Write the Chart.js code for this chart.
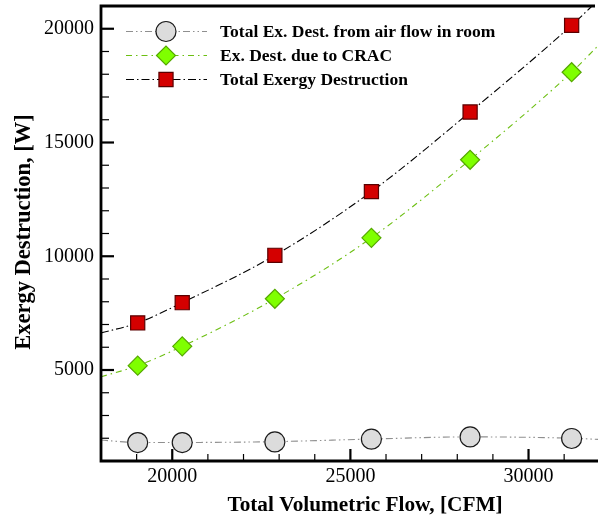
<!DOCTYPE html>
<html>
<head>
<meta charset="utf-8">
<script src="https://cdn.jsdelivr.net/npm/chart.js@4/dist/chart.umd.min.js"></script>
<style>
  html, body { margin: 0; padding: 0; background: #fff; overflow: hidden; }
  canvas { display: block; }
</style>
</head>
<body>
<canvas id="grafico" width="598" height="520"></canvas>
<script>
// Dados
const flowCFM = [19030, 20280, 22880, 25590, 28360, 31210];
const exDestRoom = [1810, 1810, 1840, 1960, 2060, 1990];
const exDestCRAC = [5190, 6040, 8130, 10810, 14240, 18090];
const exDestTotal = [7070, 7960, 10040, 12840, 16340, 20150];

// Curvas de ajuste (incluindo onde tocam a moldura)
const fitFlow = [18000, 19030, 20280, 22880, 25590, 28360, 31210, 31950];
const fitRoom = [1920, 1815, 1815, 1850, 1965, 2060, 2000, 1950];
const fitCRAC = [4700, 5190, 6040, 8130, 10810, 14240, 18090, 19250];
const fitTotal = [6630, 7070, 7960, 10040, 12840, 16340, 20150, 21250];

// Ticks
const xTicks = [19000, 20000, 21000, 22000, 23000, 24000, 25000, 26000, 27000, 28000, 29000, 30000, 31000];
const xTickLabels = [20000, 25000, 30000];
const yTicks = [2000, 3000, 4000, 5000, 6000, 7000, 8000, 9000, 10000, 11000, 12000, 13000, 14000, 15000, 16000, 17000, 18000, 19000, 20000];
const yTickLabels = [5000, 10000, 15000, 20000];

const seriesLabels = [
  'Total Ex. Dest. from air flow in room',
  'Ex. Dest. due to CRAC',
  'Total Exergy Destruction'
];
const xTitle = 'Total Volumetric Flow, [CFM]';
const yTitle = 'Exergy Destruction, [W]';

const serif = "'Liberation Serif', 'Times New Roman', serif";

function pontos(xs, ys) {
  return xs.map((x, i) => ({ x: x, y: ys[i] }));
}

// Estilos das séries
const estilos = [
  { line: '#8f8f8f', dash: [7, 3, 1.5, 3, 1.5, 3], style: 'circle', radius: 10, fill: '#dcdcdc', border: '#1a1a1a' },
  { line: '#6cbf12', dash: [6, 4, 1.5, 4], style: 'rectRot', radius: 9.5, fill: '#7fff00', border: '#56a800' },
  { line: '#000000', dash: [8, 3, 1.5, 3], style: 'rect', radius: 10, fill: '#d40000', border: '#5a0000' }
];

const marcadores = [exDestRoom, exDestCRAC, exDestTotal];
const ajustes = [fitRoom, fitCRAC, fitTotal];

const datasets = [];
marcadores.forEach((ys, i) => {
  const e = estilos[i];
  datasets.push({
    label: seriesLabels[i],
    data: pontos(flowCFM, ys),
    showLine: false,
    pointStyle: e.style,
    pointRadius: e.radius,
    pointBackgroundColor: e.fill,
    pointBorderColor: e.border,
    pointBorderWidth: 1.2,
    order: 1
  });
});
ajustes.forEach((ys, i) => {
  const e = estilos[i];
  datasets.push({
    label: seriesLabels[i] + ' (fit)',
    data: pontos(fitFlow, ys),
    showLine: true,
    borderColor: e.line,
    borderWidth: 1.1,
    borderDash: e.dash,
    pointRadius: 0,
    cubicInterpolationMode: 'monotone',
    order: 2
  });
});

// Moldura, ticks internos, legenda e títulos
const molduraPlugin = {
  id: 'moldura',
  afterDatasetsDraw(chart) {
    const ctx = chart.ctx;
    const area = chart.chartArea;
    const xs = chart.scales.x;
    const ys = chart.scales.y;
    ctx.save();
    ctx.strokeStyle = '#000';
    ctx.setLineDash([]);

    // ticks do eixo x (para dentro)
    xTicks.forEach(v => {
      const major = xTickLabels.includes(v);
      const px = xs.getPixelForValue(v);
      ctx.lineWidth = major ? 2.2 : 1.2;
      ctx.beginPath();
      ctx.moveTo(px, area.bottom);
      ctx.lineTo(px, area.bottom - (major ? 12 : 7));
      ctx.stroke();
    });
    // ticks do eixo y
    yTicks.forEach(v => {
      const major = yTickLabels.includes(v);
      const py = ys.getPixelForValue(v);
      ctx.lineWidth = major ? 2.2 : 1.2;
      ctx.beginPath();
      ctx.moveTo(area.left, py);
      ctx.lineTo(area.left + (major ? 13 : 8), py);
      ctx.stroke();
    });

    // moldura: esquerda, baixo, topo
    ctx.lineWidth = 2.8;
    ctx.beginPath();
    ctx.moveTo(area.right - 3, area.top);
    ctx.lineTo(area.left, area.top);
    ctx.lineTo(area.left, area.bottom);
    ctx.lineTo(area.right, area.bottom);
    ctx.stroke();

    // legenda
    const linhas = [31.5, 55.5, 79.5];
    ctx.font = 'bold 17.5px ' + serif;
    ctx.textBaseline = 'middle';
    ctx.textAlign = 'left';
    linhas.forEach((ly, i) => {
      const e = estilos[i];
      ctx.strokeStyle = e.line;
      ctx.lineWidth = 1.1;
      ctx.setLineDash(e.dash);
      ctx.beginPath();
      ctx.moveTo(126, ly);
      ctx.lineTo(207, ly);
      ctx.stroke();
      ctx.setLineDash([]);
      ctx.fillStyle = e.fill;
      ctx.strokeStyle = e.border;
      ctx.lineWidth = 1.2;
      Chart.helpers.drawPoint(ctx, { pointStyle: e.style, radius: e.radius, borderWidth: 1.2, rotation: 0 }, 166, ly);
      ctx.fillStyle = '#000';
      ctx.fillText(seriesLabels[i], 220, ly + 1);
    });

    // títulos dos eixos
    ctx.fillStyle = '#000';
    ctx.font = 'bold 21.3px ' + serif;
    ctx.textAlign = 'center';
    ctx.textBaseline = 'middle';
    ctx.fillText(xTitle, 365, 505);
    ctx.font = 'bold 22.5px ' + serif;
    ctx.translate(24, 232);
    ctx.rotate(-Math.PI / 2);
    ctx.fillText(yTitle, 0, 0);
    ctx.restore();
  }
};

const fonteTicks = { family: serif, size: 20 };

function semPadding(s) {
  s.paddingLeft = 0;
  s.paddingRight = 0;
  s.paddingTop = 0;
  s.paddingBottom = 0;
}

new Chart(document.getElementById('grafico'), {
  type: 'scatter',
  data: { datasets: datasets },
  options: {
    responsive: false,
    animation: false,
    events: [],
    layout: { autoPadding: false, padding: { top: 6, right: 0, left: 0, bottom: 0 } },
    plugins: {
      legend: { display: false },
      tooltip: { enabled: false }
    },
    scales: {
      x: {
        type: 'linear',
        min: 18000,
        max: 31950,
        afterBuildTicks: s => { s.ticks = xTickLabels.map(v => ({ value: v })); },
        afterFit: s => { s.height = 59; semPadding(s); },
        grid: { display: false, drawTicks: false, tickLength: 0 },
        border: { display: false },
        ticks: {
          autoSkip: false,
          maxRotation: 0,
          padding: 4,
          color: '#000',
          font: fonteTicks,
          callback: v => String(v)
        }
      },
      y: {
        type: 'linear',
        min: 1000,
        max: 21000,
        afterBuildTicks: s => { s.ticks = yTickLabels.map(v => ({ value: v })); },
        afterFit: s => { s.width = 101; semPadding(s); },
        grid: { display: false, drawTicks: false, tickLength: 0 },
        border: { display: false },
        ticks: {
          autoSkip: false,
          padding: 7,
          color: '#000',
          font: fonteTicks,
          callback: v => String(v)
        }
      }
    }
  },
  plugins: [molduraPlugin]
});
</script>
</body>
</html>
